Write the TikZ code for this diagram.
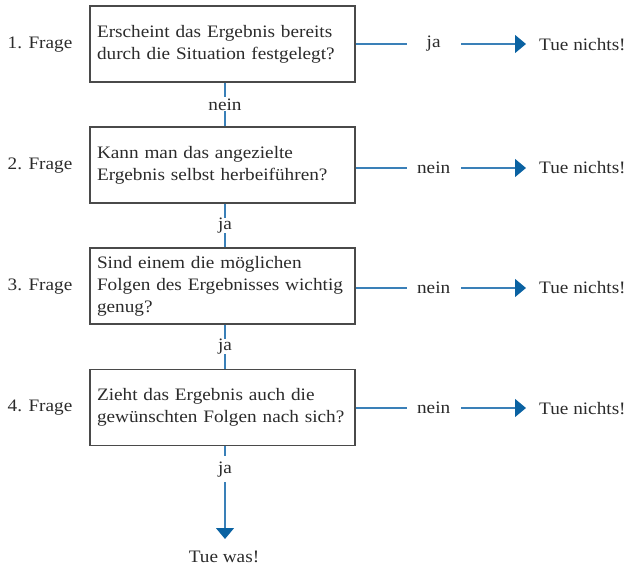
\documentclass[tikz,border=0pt]{standalone}
\usepackage{fontspec}
\setmainfont{Liberation Serif}[FakeStretch=1.1]
\usetikzlibrary{arrows.meta}
\definecolor{txt}{HTML}{2B2B2B}
\definecolor{frame}{HTML}{4A4A4A}
\definecolor{conn}{HTML}{3A80B8}
\definecolor{tip}{HTML}{0A62A2}
\begin{document}
\begin{tikzpicture}[x=1pt,y=-1pt,
  every node/.style={text=txt,font=\fontsize{17.5}{22}\selectfont},
  qbox/.style={draw=frame,line width=1.3pt,minimum width=265pt,minimum height=76pt,
    text width=251pt,align=left,inner sep=0pt},
  conn/.style={draw=conn,line width=1.2pt},
  arr/.style={conn,-{Triangle[length=11pt,width=18pt,color=tip]}},
  lbl/.style={fill=white,inner sep=0pt,minimum width=54pt,minimum height=14pt},
  side/.style={anchor=west,inner sep=0pt},
  frage/.style={inner sep=0pt}]
\useasboundingbox (0,0) rectangle (627,569);
% question boxes
\node[qbox] (q1) at (222.5,44) {Erscheint das Ergebnis bereits\\durch die Situation festgelegt?};
\node[qbox] (q2) at (222.5,165) {Kann man das angezielte\\Ergebnis selbst herbeiführen?};
\node[qbox] (q3) at (222.5,286) {Sind einem die möglichen\\Folgen des Ergebnisses wichtig\\genug?};
\node[qbox] (q4) at (222.5,407.5) {Zieht das Ergebnis auch die\\gewünschten Folgen nach sich?};
% question numbers
\node[frage] (f1) at (40,45) {1. Frage};
\node[frage] (f2) at (40,166) {2. Frage};
\node[frage] (f3) at (40,287) {3. Frage};
\node[frage] (f4) at (40,408) {4. Frage};
% outcomes
\node[side] (n1) at (539,45) {Tue nichts!};
\node[side] (n2) at (539,168) {Tue nichts!};
\node[side] (n3) at (539,288) {Tue nichts!};
\node[side] (n4) at (539,409) {Tue nichts!};
\node[inner sep=0pt] (tw) at (224,557) {Tue was!};
\coordinate (t1) at (526,44);
\coordinate (t2) at (526,168);
\coordinate (t3) at (526,288);
\coordinate (t4) at (526,408);
\coordinate (tb) at (225,539);
% exits to the right
\draw[arr] (q1.east) -- node[lbl,pos=0.458]{ja} (t1);
\draw[arr] (q2.east |- t2) -- node[lbl,pos=0.458]{nein} (t2);
\draw[arr] (q3.east |- t3) -- node[lbl,pos=0.458]{nein} (t3);
\draw[arr] (q4.east |- t4) -- node[lbl,pos=0.458]{nein} (t4);
% downward path
\draw[conn] (q1.south -| tb) -- node[lbl,minimum width=30pt]{nein} (q2.north -| tb);
\draw[conn] (q2.south -| tb) -- node[lbl,minimum width=30pt]{ja} (q3.north -| tb);
\draw[conn] (q3.south -| tb) -- node[lbl,minimum width=30pt]{ja} (q4.north -| tb);
\draw[arr] (q4.south -| tb) -- node[lbl,pos=0.25,minimum width=30pt,minimum height=26pt]{ja} (tb);
\end{tikzpicture}
\end{document}
